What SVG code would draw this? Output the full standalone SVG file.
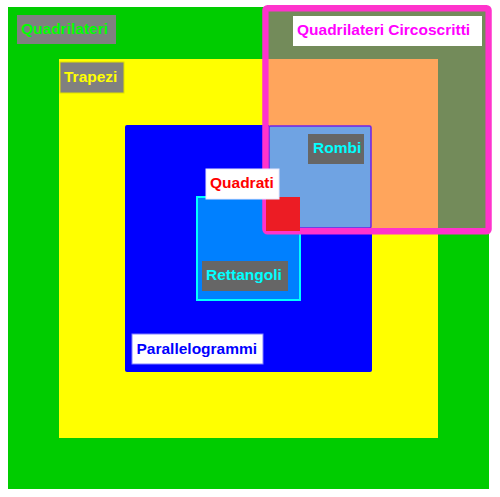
<svg xmlns="http://www.w3.org/2000/svg" width="500" height="497" viewBox="0 0 500 497">
<style>
text{font-family:"Liberation Sans",Arial,sans-serif;font-weight:bold;font-size:15.5px}
.lg{fill:#808080}
.ld{fill:#666666}
.lw{fill:#ffffff}
</style>
<rect width="500" height="497" fill="#ffffff"/>
<g id="quadrilateri">
<rect x="8" y="7" width="481" height="482" fill="#00cc00"/>
</g>
<g id="trapezi">
<rect x="59" y="59" width="379" height="379" fill="#ffff00"/>
</g>
<g id="parallelogrammi">
<rect x="125" y="125" width="247" height="247" rx="2" fill="#0000ff"/>
</g>
<g id="rettangoli">
<rect x="197" y="197" width="103" height="103" fill="#0080ff" stroke="#00ffff" stroke-width="2"/>
</g>
<g id="circoscritti">
<rect x="269" y="11" width="216" height="217" fill="#738b5a"/>
<rect x="269" y="59" width="169" height="169" fill="#ffa55c"/>
</g>
<g id="rombi">
<rect x="269" y="126" width="102" height="102" rx="1.5" fill="#6fa3e3" stroke="#7022e8" stroke-width="1.5"/>
</g>
<g id="circoscritti-frame">
<rect x="265.5" y="8.2" width="223" height="223" rx="2" fill="none" stroke="#ff33cc" stroke-width="6.5"/>
</g>
<g id="quadrati">
<rect x="266" y="197" width="34" height="34" fill="#ec1c24"/>
</g>
<g id="labels">
<rect class="lg" x="17" y="15" width="99" height="29"/>
<text x="21" y="33.5" fill="#00ff00">Quadrilateri</text>
<rect class="lg" x="60" y="62" width="64" height="31" stroke="#e0e000" stroke-width="1"/>
<text x="64" y="82" fill="#ffff00">Trapezi</text>
<rect class="lw" x="293" y="16" width="189" height="30"/>
<text x="297" y="35" fill="#ff00ff">Quadrilateri Circoscritti</text>
<rect class="ld" x="308" y="134" width="56" height="30"/>
<text x="313" y="153" fill="#00ffff">Rombi</text>
<rect class="lw" x="206" y="169" width="73" height="30" stroke="#e8e8ff" stroke-width="1"/>
<text x="210" y="188" fill="#ff0000">Quadrati</text>
<rect class="ld" x="202" y="261" width="86" height="30"/>
<text x="206" y="280" fill="#00ffff">Rettangoli</text>
<rect class="lw" x="132" y="334" width="131" height="30" stroke="#8080ff" stroke-width="1"/>
<text x="136.5" y="353.5" fill="#0000ff">Parallelogrammi</text>
</g>
</svg>
